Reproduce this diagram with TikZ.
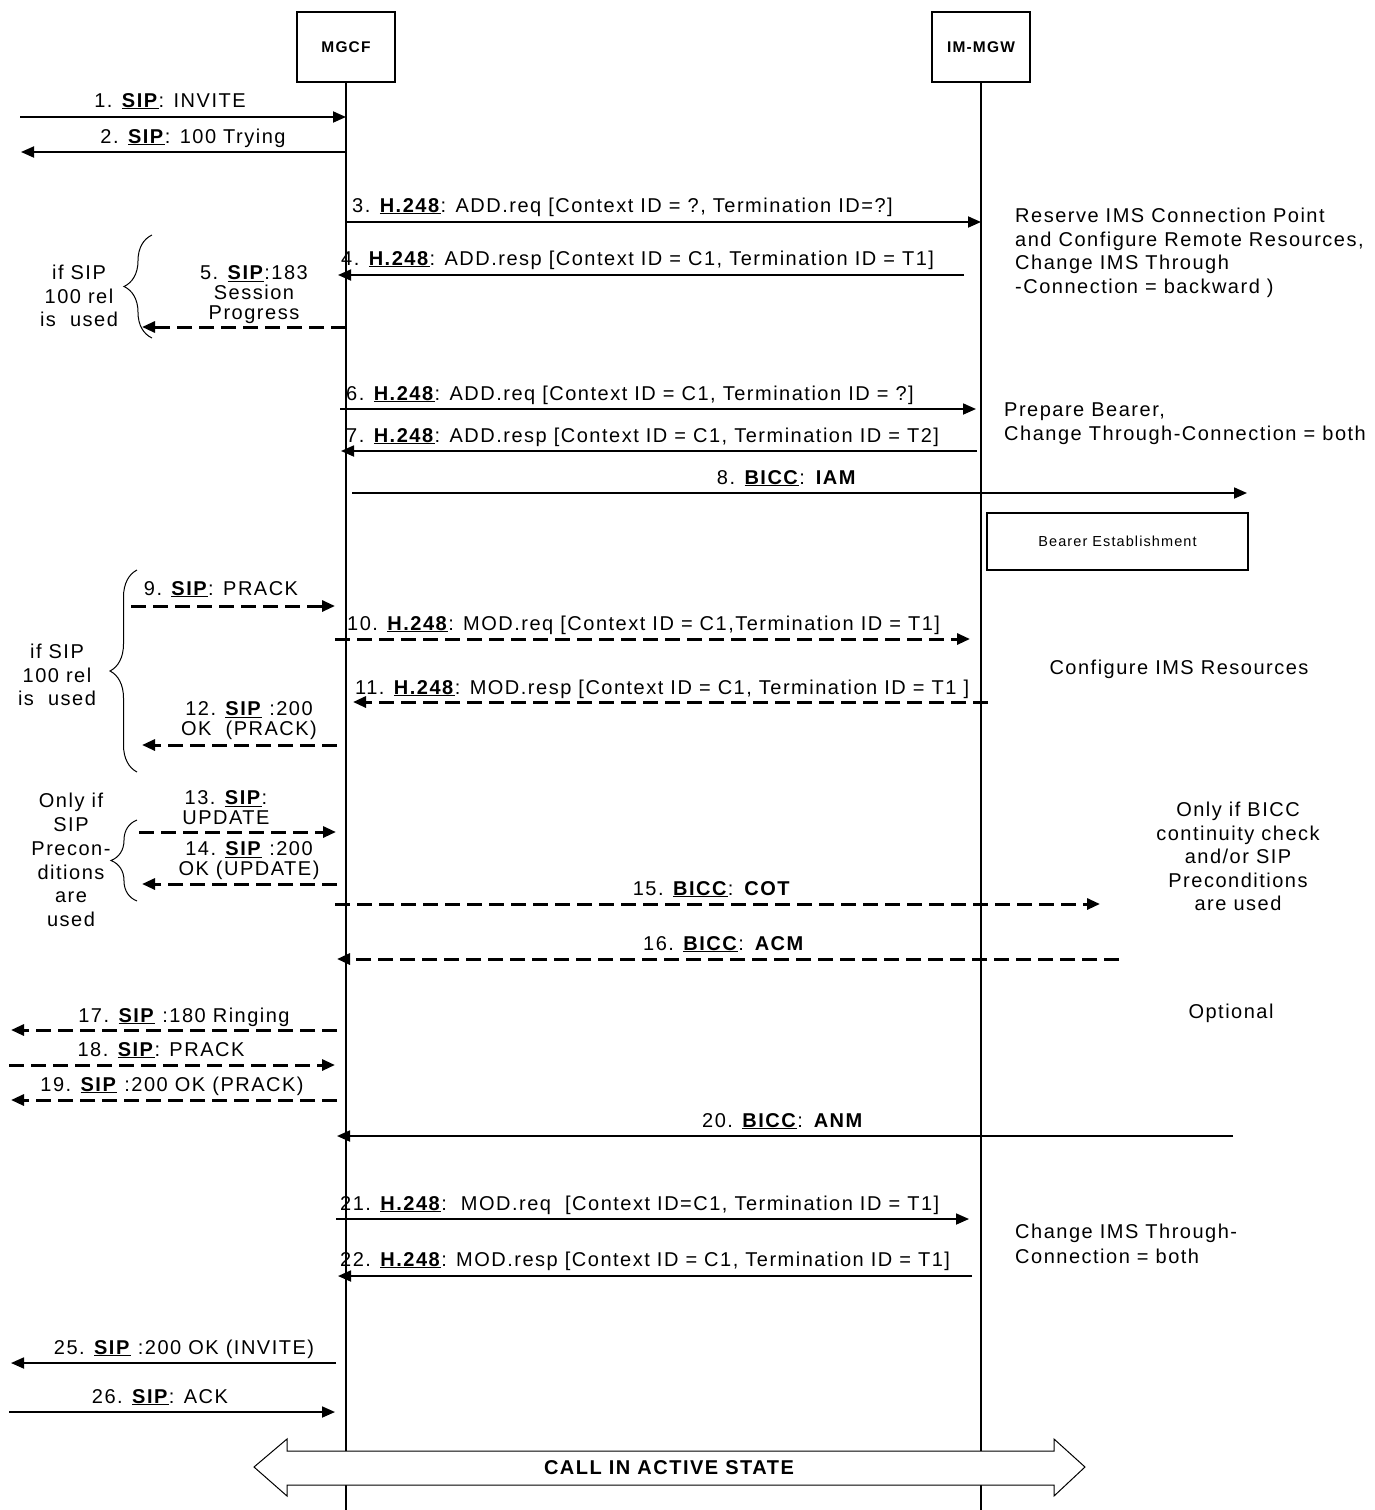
\documentclass[tikz,border=0pt]{standalone}
\usepackage{fontspec}
\setmainfont{Liberation Sans}[LetterSpace=7.5]
\usetikzlibrary{arrows.meta,decorations.pathreplacing}
\tikzset{
  >={Triangle[length=13pt,width=11pt]},
  entity/.style={draw,line width=1.8pt,minimum width=98pt,minimum height=70pt,
    font=\fontsize{15.5}{17}\selectfont\bfseries},
  life/.style={line width=1.8pt},
  msg/.style={->,line width=1.8pt},
  optmsg/.style={->,line width=3pt,dash pattern=on 15pt off 7pt},
  lbl/.style={inner sep=0pt,font=\fontsize{20}{20}\selectfont,align=center},
  note/.style={inner sep=0pt,font=\fontsize{20}{23.5}\selectfont,align=#1},
  note/.default=left,
  brc/.style={decorate,decoration={brace,amplitude=#1},line width=1pt},
}
\newcommand{\proto}[1]{\underline{\textbf{#1}}}

\begin{document}
\begin{tikzpicture}[x=1pt,y=-1pt]
  \path[use as bounding box,fill=white] (0,0) rectangle (1375,1510);
  % entities and lifelines
  \node[entity] (mgcf) at (346,47) {MGCF};
  \node[entity] (mgw) at (981,47) {IM-MGW};
  \coordinate (mgcfEnd) at (346,1510);
  \coordinate (mgwEnd) at (981,1510);
  \draw[life] (mgcf) -- (mgcfEnd);
  \draw[life] (mgw) -- (mgwEnd);
  % messages
  \foreach \n/\xa/\xb/\y/\s in {1/20/346/117/msg, 2/346/21/152/msg, 3/346/981/222/msg,
      4/964/338/275/msg, 5/346/142/327/optmsg, 6/340/976/409/msg, 7/977/341/451/msg,
      8/352/1247/493/msg, 9/131/335/606/optmsg, 10/335/970/639/optmsg,
      11/988/353/702/optmsg, 12/337/142/745/optmsg, 13/139/336/832/optmsg,
      14/337/142/884/optmsg, 15/335/1100/904/optmsg, 16/1119/337/959/optmsg,
      17/337/11/1030/optmsg, 18/9/335/1065/optmsg, 19/337/11/1100/optmsg,
      20/1233/337/1136/msg, 21/336/969/1219/msg, 22/972/338/1276/msg,
      25/336/11/1363/msg, 26/9/335/1412/msg}{
    \coordinate (a\n) at (\xa,\y);
    \coordinate (b\n) at (\xb,\y);
    \draw[\s] (a\n) -- (b\n);
  }
  \node[lbl,anchor=base] (l1) at (170,107) {1. \proto{SIP}: INVITE};
  \node[lbl,anchor=base] (l2) at (193,143) {2. \proto{SIP}: 100 Trying};
  \node[lbl,anchor=base west] (l3) at (352,212) {3. \proto{H.248}: ADD.req [Context ID = ?, Termination ID=?]};
  \node[lbl,anchor=base west] (l4) at (341,265) {4. \proto{H.248}: ADD.resp [Context ID = C1, Termination ID = T1]};
  \node[lbl,anchor=north] (l5) at (254,265) {5. \proto{SIP}:183\\Session\\Progress};
  \node[lbl,anchor=base west] (l6) at (346,400) {6. \proto{H.248}: ADD.req [Context ID = C1, Termination ID = ?]};
  \node[lbl,anchor=base west] (l7) at (346,442) {7. \proto{H.248}: ADD.resp [Context ID = C1, Termination ID = T2]};
  \node[lbl,anchor=base] (l8) at (787,484) {8. \proto{BICC}: \textbf{IAM}};
  \node[lbl,anchor=base] (l9) at (221,595) {9. \proto{SIP}: PRACK};
  \node[lbl,anchor=base west] (l10) at (347,630) {10. \proto{H.248}: MOD.req [Context ID = C1,Termination ID = T1]};
  \node[lbl,anchor=base west] (l11) at (355,694) {11. \proto{H.248}: MOD.resp [Context ID = C1, Termination ID = T1 ]};
  \node[lbl,anchor=north] (l12) at (249,701) {12. \proto{SIP} :200\\OK\ \ (PRACK)};
  \node[lbl,anchor=north] (l13) at (226,790) {13. \proto{SIP}:\\UPDATE};
  \node[lbl,anchor=north] (l14) at (249,841) {14. \proto{SIP} :200\\OK (UPDATE)};
  \node[lbl,anchor=base] (l15) at (712,895) {15. \proto{BICC}: \textbf{COT}};
  \node[lbl,anchor=base] (l16) at (724,950) {16. \proto{BICC}: \textbf{ACM}};
  \node[lbl,anchor=base] (l17) at (184,1022) {17. \proto{SIP} :180 Ringing};
  \node[lbl,anchor=base] (l18) at (161,1056) {18. \proto{SIP}: PRACK};
  \node[lbl,anchor=base] (l19) at (172,1091) {19. \proto{SIP} :200 OK (PRACK)};
  \node[lbl,anchor=base] (l20) at (783,1127) {20. \proto{BICC}: \textbf{ANM}};
  \node[lbl,anchor=base west] (l21) at (340,1210) {21. \proto{H.248}:\ \ MOD.req\ \ [Context ID=C1, Termination ID = T1]};
  \node[lbl,anchor=base west] (l22) at (340,1266) {22. \proto{H.248}: MOD.resp [Context ID = C1, Termination ID = T1]};
  \node[lbl,anchor=base] (l25) at (184,1354) {25. \proto{SIP} :200 OK (INVITE)};
  \node[lbl,anchor=base] (l26) at (160,1403) {26. \proto{SIP}: ACK};
  % bearer box
  \node[draw,line width=1.8pt,minimum width=261pt,minimum height=57pt,
    font=\fontsize{14.5}{16}\selectfont] (bearer) at (1117.5,541.5) {Bearer Establishment};
  % notes on the right
  \node[note,anchor=north west] (n1) at (1015,208) {Reserve IMS Connection Point\\and Configure Remote Resources,\\Change IMS Through\\-Connection = backward )};
  \node[note,anchor=north west] (n2) at (1004,403) {Prepare Bearer,\\Change Through-Connection = both};
  \node[note,anchor=base] (n3) at (1179,674) {Configure IMS Resources};
  \node[note=center,anchor=north] (n4) at (1238,802) {Only if BICC\\continuity check\\and/or SIP\\Preconditions\\are used};
  \node[note,anchor=base] (n5) at (1231,1018) {Optional};
  \node[note,anchor=north west,font=\fontsize{20}{25}\selectfont] (n6) at (1015,1224) {Change IMS Through-\\Connection = both};
  % conditions on the left
  \draw[brc=28] (152,338) -- (152,235);
  \draw[brc=27] (137,772) -- (137,570);
  \draw[brc=26] (137,901) -- (137,820);
  \node[note=center,anchor=north] (c1) at (79,265) {if SIP\\100 rel\\is\ \ used};
  \node[note=center,anchor=north] (c2) at (57,644) {if SIP\\100 rel\\is\ \ used};
  \node[note=center,anchor=north,font=\fontsize{20}{23.8}\selectfont] (c3) at (71,793) {Only if\\SIP\\Precon-\\ditions\\are\\used};
  % active call
  \draw[fill=white,line width=1pt] (254,1467) -- (287,1439) -- (287,1451) -- (1054,1451) -- (1054,1439)
    -- (1085,1467) -- (1054,1496) -- (1054,1485) -- (287,1485) -- (287,1496) -- cycle;
  \node[lbl,anchor=base,font=\fontsize{20}{20}\selectfont\bfseries] (active) at (669,1474) {CALL IN ACTIVE STATE};
\end{tikzpicture}
\end{document}
